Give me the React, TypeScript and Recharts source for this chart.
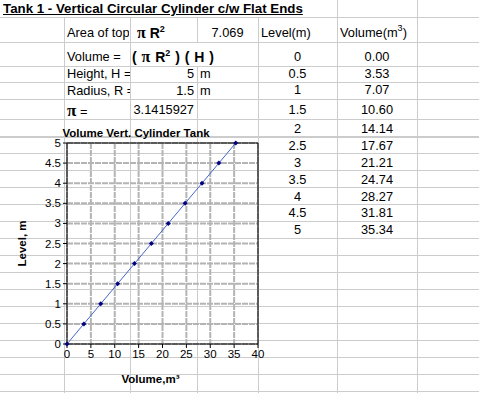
import { LineChart, Line, XAxis, YAxis, CartesianGrid, ReferenceLine, Label } from 'recharts'
import type { CSSProperties, ReactNode } from 'react'

// values
const levels = [0, 0.5, 1, 1.5, 2, 2.5, 3, 3.5, 4, 4.5, 5]
const volumes = [0.0, 3.53, 7.07, 10.6, 14.14, 17.67, 21.21, 24.74, 28.27, 31.81, 35.34]
const xTicks = [0, 5, 10, 15, 20, 25, 30, 35, 40]
const yTicks = [0, 0.5, 1, 1.5, 2, 2.5, 3, 3.5, 4, 4.5, 5]

const data = levels.map((level, i) => ({ level, volume: volumes[i] }))

// sheet layout
const colLines = [64, 130, 197, 258, 337, 417]
const rowLines = [17, 42, 66, 82, 99, 119, 136, 153, 170, 187, 204, 221, 238, 255, 272, 289, 306, 323, 340, 357, 374, 391]
const tableRowY = [57, 74, 90, 110, 129, 146, 163, 180, 197, 213, 230]

const FONT = '"Liberation Sans", Arial, sans-serif'
const SERIF = '"Liberation Serif", "Times New Roman", serif'
const GRID = '#cccccc'

interface CellProps {
  x: number
  y: number
  w: number
  align?: 'left' | 'right' | 'center'
  style?: CSSProperties
  children: ReactNode
}

function Cell({ x, y, w, align = 'left', style, children }: CellProps) {
  return (
    <div
      style={{
        position: 'absolute',
        left: x,
        top: y - 8,
        width: w,
        height: 16,
        lineHeight: '16px',
        textAlign: align,
        whiteSpace: 'nowrap',
        overflow: 'hidden',
        fontFamily: FONT,
        fontSize: 12.8,
        color: '#000',
        ...style,
      }}
    >
      {children}
    </div>
  )
}

const Pi = ({ size = 16 }: { size?: number }) => (
  <span style={{ fontFamily: SERIF, fontWeight: 'bold', fontSize: size, lineHeight: '16px' }}>π</span>
)

const Sup = ({ children }: { children: ReactNode }) => (
  <span style={{ position: 'relative', top: -6, fontSize: 9, lineHeight: '10px' }}>{children}</span>
)

function Diamond(props: any) {
  const { cx, cy, index } = props
  if (cx == null || cy == null) return <g key={index} />
  return (
    <path
      key={index}
      d={`M${cx},${cy - 2.5}L${cx + 2.5},${cy}L${cx},${cy + 2.5}L${cx - 2.5},${cy}Z`}
      fill="#000080"
    />
  )
}

function SheetGrid() {
  const lines: ReactNode[] = []
  rowLines.forEach((y, i) => {
    lines.push(
      <div key={'r' + i} style={{ position: 'absolute', left: 0, top: y, width: 479, height: y === 136 ? 2 : 1, background: GRID }} />
    )
  })
  colLines.forEach((x, i) => {
    // title spills over row 1, formula spills over D3
    let top = 0
    if (x < 300) top = 17
    if (x === 197) {
      lines.push(<div key={'c' + i + 'a'} style={{ position: 'absolute', left: x, top: 17, width: 1, height: 25, background: GRID }} />)
      top = 66
    }
    lines.push(<div key={'c' + i} style={{ position: 'absolute', left: x, top, width: 1, height: 393 - top, background: GRID }} />)
  })
  return <>{lines}</>
}

export default function App() {
  const labelFont = { fontFamily: FONT, fontSize: 11.5, fontWeight: 'bold' as const, fill: '#000' }
  return (
    <div style={{ position: 'absolute', left: 0, top: 0, width: 479, height: 393, background: '#fff', overflow: 'hidden' }}>
      <SheetGrid />

      <Cell x={3} y={9} w={340} style={{ fontWeight: 'bold', fontSize: 13.3, textDecoration: 'underline' }}>
        Tank 1 - Vertical Circular Cylinder c/w Flat Ends
      </Cell>

      <Cell x={67} y={33} w={62}>Area of top</Cell>
      <Cell x={137} y={33} w={60} style={{ fontWeight: 'bold', fontSize: 14, overflow: 'visible' }}>
        <Pi /> R<Sup>2</Sup>
      </Cell>
      <Cell x={197} y={33} w={61} align="center">7.069</Cell>
      <Cell x={261} y={33} w={76}>Level(m)</Cell>
      <Cell x={340} y={33} w={77} style={{ overflow: 'visible' }}>
        Volume(m<Sup>3</Sup>)
      </Cell>

      <Cell x={67} y={57} w={62}>Volume =</Cell>
      <Cell x={132} y={57} w={90} style={{ fontWeight: 'bold', fontSize: 14, overflow: 'visible', wordSpacing: 1 }}>
        ( <Pi /> R<Sup>2</Sup> ) ( H )
      </Cell>

      <Cell x={67} y={74} w={63}>Height, H =</Cell>
      <Cell x={130} y={74} w={64} align="right">5</Cell>
      <Cell x={200} y={74} w={40}>m</Cell>

      <Cell x={67} y={91} w={63}>Radius, R =</Cell>
      <Cell x={130} y={91} w={64} align="right">1.5</Cell>
      <Cell x={200} y={91} w={40}>m</Cell>

      <Cell x={67} y={111} w={62} style={{ overflow: 'visible' }}>
        <Pi size={17} /> =
      </Cell>
      <Cell x={130} y={110} w={64} align="right">3.1415927</Cell>

      {levels.map((lv, i) => (
        <Cell key={'lv' + i} x={258} y={tableRowY[i]} w={79} align="center">{String(lv)}</Cell>
      ))}
      {volumes.map((v, i) => (
        <Cell key={'vo' + i} x={337} y={tableRowY[i]} w={80} align="center">{v.toFixed(2)}</Cell>
      ))}

      <div
        style={{
          position: 'absolute',
          left: 36,
          top: 125,
          width: 200,
          textAlign: 'center',
          fontFamily: FONT,
          fontSize: 11.5,
          fontWeight: 'bold',
          lineHeight: '16px',
          whiteSpace: 'nowrap',
        }}
      >
        Volume Vert. Cylinder Tank
      </div>

      <div style={{ position: 'absolute', left: 0, top: 0 }}>
        <LineChart width={270} height={393} data={data} margin={{ top: 143, right: 12, left: 0, bottom: 9 }}>
          <CartesianGrid stroke="#b4b4b4" strokeWidth={2} strokeDasharray="6 1" />
          <XAxis
            type="number"
            dataKey="volume"
            domain={[0, 40]}
            ticks={xTicks}
            interval={0}
            height={40}
            tickSize={4}
            axisLine={{ stroke: '#000' }}
            tickLine={{ stroke: '#000' }}
            tick={{ fontFamily: FONT, fontSize: 11.5, fill: '#000' }}
          >
            <Label value="Volume,m³" position="insideBottom" offset={1} dx={-12} style={labelFont} />
          </XAxis>
          <YAxis
            type="number"
            dataKey="level"
            domain={[0, 5]}
            ticks={yTicks}
            interval={0}
            width={67}
            tickSize={4}
            axisLine={{ stroke: '#000' }}
            tickLine={{ stroke: '#000' }}
            tick={{ fontFamily: FONT, fontSize: 11.5, fill: '#000' }}
          >
            <Label value="Level, m" angle={-90} position="insideLeft" offset={22} style={{ ...labelFont, textAnchor: 'middle' }} />
          </YAxis>
          <ReferenceLine y={5} stroke="#000" />
          <ReferenceLine x={40} stroke="#000" />
          <Line
            type="linear"
            dataKey="level"
            stroke="#4466cc"
            strokeWidth={1}
            dot={Diamond}
            activeDot={false}
            isAnimationActive={false}
          />
        </LineChart>
      </div>
    </div>
  )
}
